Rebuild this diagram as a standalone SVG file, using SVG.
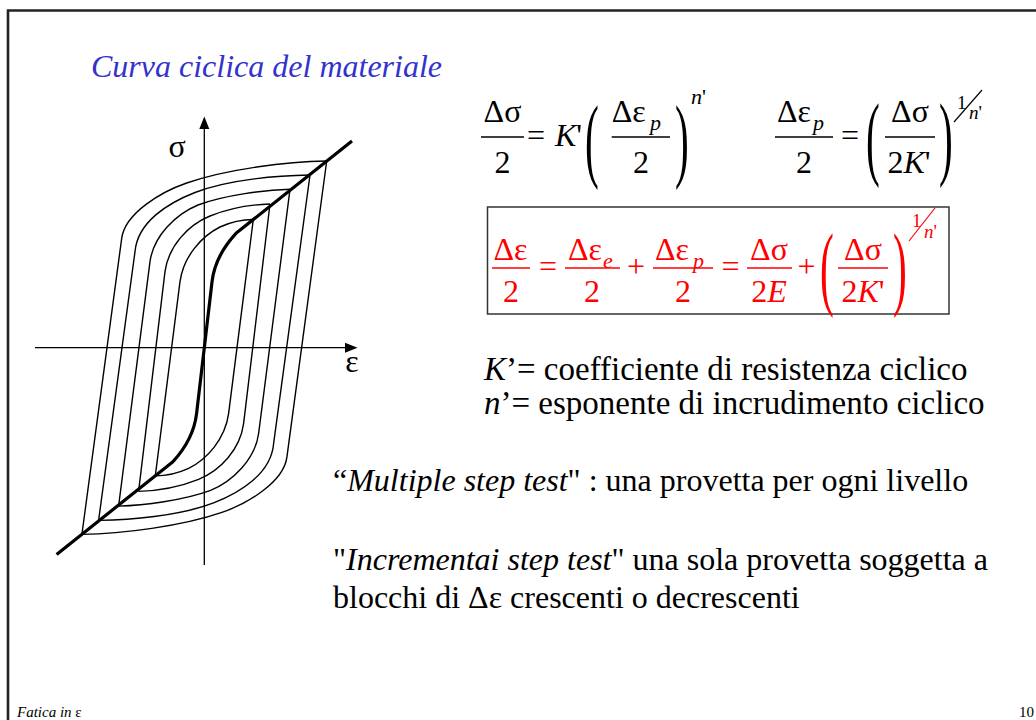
<svg xmlns="http://www.w3.org/2000/svg" width="1036" height="720" viewBox="0 0 1036 720">
<style>
text{font-family:"Liberation Serif","Times New Roman",serif;fill:#000}
.eq{font-size:32px}
.it{font-style:italic}
.sub{font-size:22px;font-style:italic}
.sup{font-size:19px}
.red{fill:#ff0000}
.paren{font-size:36px}
.bar{stroke:#000;stroke-width:1.5}
.rbar{stroke:#ff0000;stroke-width:1.5}
.thin{fill:none;stroke:#000;stroke-width:1.4;stroke-linejoin:round}
.thick{fill:none;stroke:#000;stroke-width:3.2;stroke-linejoin:round}
.body{font-size:32px}
.body33{font-size:33px}
</style>
<defs>
<g id="halfLoops">
<path class="thin" d="M81.9,534.4 L121.7,238.3 C125,213 161.7,191.6 186.7,183 C226.7,169.2 286.7,161.5 326.7,161"/>
<path class="thin" d="M98.6,520.4 L135,251.7 C137.5,222 168,203 195,192.5 C230,179 280,175.5 310,175"/>
<path class="thin" d="M118.6,506.1 L150,261.7 C153.5,236 176,214 198,205 C225,195 265,190 290,189.3"/>
<path class="thin" d="M138.6,491.4 L165,271.7 C168.5,246 188,225 210,216 C230,208 252,204.5 270,204"/>
<path class="thin" d="M155.3,475.9 L180,281.7 C183.5,256 202,236 220,227 C233,221 245,219.5 253.3,219.5"/>
<path class="thick" d="M204.3,347.7 L212,282 Q215,256 236,233.3 L352,141"/>
</g>
</defs>
<path d="M8,720 V10.5 H1036" fill="none" stroke="#222" stroke-width="2.6"/>
<text x="91" y="77" class="it" style="font-size:32px;fill:#3333cc">Curva ciclica del materiale</text>
<g id="diagram">
<g id="axes">
<line x1="204.3" y1="565" x2="204.3" y2="127" stroke="#000" stroke-width="1.3"/>
<polygon points="204.3,116.5 199.3,129 209.3,129" fill="#000"/>
<line x1="35" y1="347.7" x2="346" y2="347.7" stroke="#000" stroke-width="1.3"/>
<polygon points="357.5,347.7 345,342.7 345,352.7" fill="#000"/>
<text x="177" y="157" class="eq" text-anchor="middle">σ</text>
<text x="352" y="372" class="eq" text-anchor="middle">ε</text>
</g>
<g id="loops">
<use href="#halfLoops"/>
<use href="#halfLoops" transform="rotate(180 204.3 347.7)"/>
</g>
</g>
<g id="eq1">
<text x="502.5" y="122" class="eq" text-anchor="middle">Δσ</text>
<line x1="481" y1="137" x2="524" y2="137" class="bar"/>
<text x="502.5" y="173" class="eq" text-anchor="middle">2</text>
<text x="536" y="146" class="eq" text-anchor="middle">=</text>
<text x="555" y="146" class="eq"><tspan class="it">K</tspan>'</text>
<text class="paren" transform="translate(585 170) scale(1.15 2.6)">(</text>
<text x="611.7" y="122" class="eq">Δε</text>
<text x="650" y="130" class="sub">p</text>
<line x1="611.7" y1="137" x2="670" y2="137" class="bar"/>
<text x="641" y="173" class="eq" text-anchor="middle">2</text>
<text class="paren" transform="translate(675 170) scale(1.15 2.6)">)</text>
<text x="691" y="104" class="sub">n<tspan style="font-style:normal">'</tspan></text>
</g>
<g id="eq2">
<text x="777" y="122" class="eq">Δε</text>
<text x="813" y="130" class="sub">p</text>
<line x1="775" y1="137" x2="833" y2="137" class="bar"/>
<text x="804" y="173" class="eq" text-anchor="middle">2</text>
<text x="850" y="146" class="eq" text-anchor="middle">=</text>
<text class="paren" transform="translate(866 168.3) scale(1.15 2.6)">(</text>
<text x="910" y="122" class="eq" text-anchor="middle">Δσ</text>
<line x1="885" y1="137" x2="935" y2="137" class="bar"/>
<text x="909" y="173" class="eq" text-anchor="middle">2<tspan class="it">K</tspan>'</text>
<text class="paren" transform="translate(939 168.3) scale(1.15 2.6)">)</text>
<text x="957" y="109" class="sup">1</text>
<line x1="954" y1="122" x2="982" y2="90" stroke="#000" stroke-width="1.2"/>
<text x="969" y="119" class="sup it">n<tspan style="font-style:normal">'</tspan></text>
</g>
<g id="eq3">
<rect x="487.5" y="207" width="461.5" height="107" fill="#fff" stroke="#333" stroke-width="1.5"/>
<text x="510.5" y="260" class="eq red" text-anchor="middle">Δε</text>
<line x1="492" y1="268" x2="530" y2="268" class="rbar"/>
<text x="511" y="302" class="eq red" text-anchor="middle">2</text>
<text x="548" y="277" class="eq red" text-anchor="middle">=</text>
<text x="568" y="260" class="eq red">Δε</text>
<text x="603" y="268" class="sub red">e</text>
<line x1="565" y1="268" x2="620" y2="268" class="rbar"/>
<text x="592" y="302" class="eq red" text-anchor="middle">2</text>
<text x="636" y="277" class="eq red" text-anchor="middle">+</text>
<text x="655" y="260" class="eq red">Δε</text>
<text x="693" y="268" class="sub red">p</text>
<line x1="653" y1="268" x2="713" y2="268" class="rbar"/>
<text x="683" y="302" class="eq red" text-anchor="middle">2</text>
<text x="730.5" y="277" class="eq red" text-anchor="middle">=</text>
<text x="769" y="260" class="eq red" text-anchor="middle">Δσ</text>
<line x1="747" y1="268" x2="792" y2="268" class="rbar"/>
<text x="769" y="302" class="eq red" text-anchor="middle">2<tspan class="it">E</tspan></text>
<text x="806.5" y="277" class="eq red" text-anchor="middle">+</text>
<text class="paren red" transform="translate(820 298.3) scale(1.15 2.6)">(</text>
<text x="863" y="260" class="eq red" text-anchor="middle">Δσ</text>
<line x1="838" y1="268" x2="888" y2="268" class="rbar"/>
<text x="863" y="302" class="eq red" text-anchor="middle">2<tspan class="it">K</tspan>'</text>
<text class="paren red" transform="translate(893 298.3) scale(1.15 2.6)">)</text>
<text x="912" y="227" class="sup red">1</text>
<line x1="909" y1="241" x2="935" y2="208" stroke="#ff0000" stroke-width="1.2"/>
<text x="924" y="238" class="sup it red">n<tspan style="font-style:normal">'</tspan></text>
</g>
<g id="texts">
<text x="484" y="380" class="body33"><tspan class="it">K</tspan>’= coefficiente di resistenza ciclico</text>
<text x="484" y="414" class="body33"><tspan class="it">n</tspan>’= esponente di incrudimento ciclico</text>
<text x="333" y="491" class="body">“<tspan class="it">Multiple step test</tspan>" : una provetta per ogni livello</text>
<text x="333" y="570" class="body">"<tspan class="it">Incrementai step test</tspan>" una sola provetta soggetta a</text>
<text x="333" y="608" class="body">blocchi di Δε crescenti o decrescenti</text>
</g>
<g id="footer">
<text x="17" y="717" style="font-size:15px"><tspan class="it">Fatica in</tspan> ε</text>
<text x="1034" y="717" style="font-size:15px" text-anchor="end">10</text>
</g>
</svg>
